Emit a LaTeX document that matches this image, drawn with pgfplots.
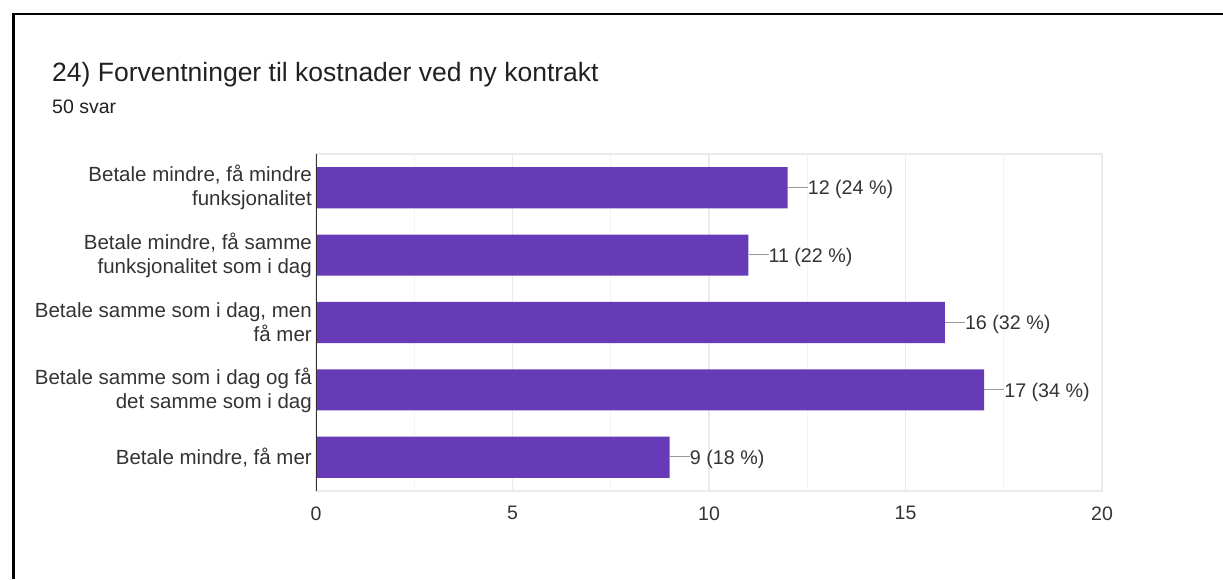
\documentclass[border=0pt]{standalone}
\usepackage{fontspec}
\setmainfont{Liberation Sans}
\usepackage{pgfplots}
\pgfplotsset{compat=1.18}
\definecolor{barpurple}{HTML}{673AB7}
\definecolor{txt}{HTML}{333333}
\definecolor{ttl}{HTML}{202124}
\definecolor{gridc}{HTML}{EBEBEB}
\definecolor{gridm}{HTML}{F4F4F4}
\begin{document}
\begin{tikzpicture}[x=1pt,y=1pt]
\path[use as bounding box] (0,0) rectangle (1223,579);
\draw[line width=2.5pt, black] (13.5,0) -- (13.5,564.8) -- (1223,564.8);
\node[anchor=base west, inner sep=0pt, font=\fontsize{26.5}{30}\selectfont, text=ttl] at (52,497) {24) Forventninger til kostnader ved ny kontrakt};
\node[anchor=base west, inner sep=0pt, font=\fontsize{19.5}{22}\selectfont, text=ttl] at (52,465) {50 svar};
\begin{axis}[
  at={(316pt,88pt)}, anchor=south west,
  scale only axis, width=786pt, height=337pt,
  xbar, bar width=0.61,
  xmin=0, xmax=20, ymin=-0.5, ymax=4.5, y dir=reverse,
  xtick={0,5,10,15,20}, minor x tick num=1,
  ytick={0,1,2,3,4},
  yticklabels={{Betale mindre, få mindre\\funksjonalitet},{Betale mindre, få samme\\funksjonalitet som i dag},{Betale samme som i dag, men\\få mer},{Betale samme som i dag og få\\det samme som i dag},{Betale mindre, få mer}},
  yticklabel style={align=right, font=\fontsize{20.5}{24}\selectfont, text=txt, inner sep=0pt, xshift=-4pt},
  xticklabel style={font=\fontsize{19.5}{22}\selectfont, text=txt, yshift=-12pt},
  /pgf/number format/assume math mode=true,
  major tick length=0pt, minor tick length=0pt,
  xmajorgrids, xminorgrids,
  major grid style={gridc, line width=1.2pt},
  minor grid style={gridm, line width=1pt},
  axis line style={gridc, line width=1.2pt},
]
\addplot[fill=barpurple, draw=none,
  point meta=explicit symbolic,
  nodes near coords={\textcolor{black!40}{\rule[0.36em]{20pt}{1pt}}\pgfplotspointmeta},
  every node near coord/.append style={anchor=west, inner sep=0pt, xshift=0pt, yshift=-2pt, font=\fontsize{19.7}{22}\selectfont, text=txt}] coordinates {
  (12,0) [12 (24 \%)]
  (11,1) [11 (22 \%)]
  (16,2) [16 (32 \%)]
  (17,3) [17 (34 \%)]
  (9,4)  [9 (18 \%)]
};
\addplot[sharp plot, black!80, line width=1.3pt, no marks, forget plot] coordinates {(0,-0.5) (0,4.5)};
\end{axis}
\end{tikzpicture}
\end{document}
